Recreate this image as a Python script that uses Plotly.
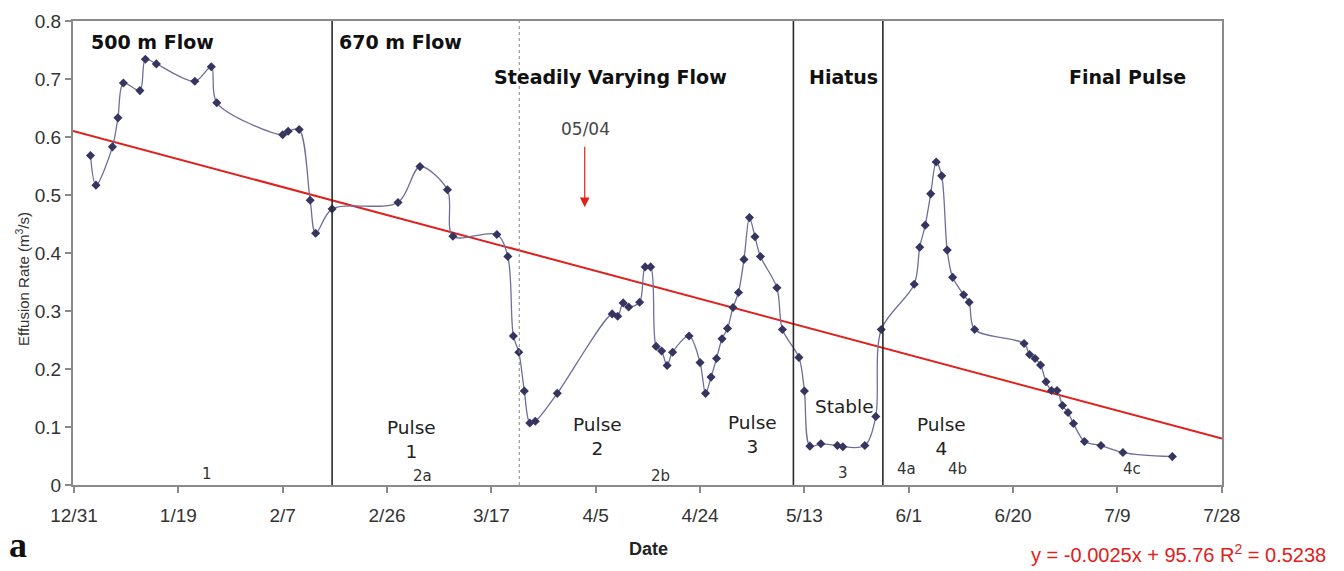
import plotly.graph_objects as go

# ---------------- data ----------------
dates = [
    "2005-01-03", "2005-01-04", "2005-01-07", "2005-01-08", "2005-01-09", "2005-01-12",
    "2005-01-13", "2005-01-15", "2005-01-22", "2005-01-25", "2005-01-26",
    "2005-02-07", "2005-02-08", "2005-02-10", "2005-02-12", "2005-02-13", "2005-02-16",
    "2005-02-28",
    "2005-03-04", "2005-03-09", "2005-03-10", "2005-03-18", "2005-03-20", "2005-03-21",
    "2005-03-22", "2005-03-23", "2005-03-24", "2005-03-25", "2005-03-29",
    "2005-04-08", "2005-04-09", "2005-04-10", "2005-04-11", "2005-04-13", "2005-04-14",
    "2005-04-15", "2005-04-16", "2005-04-17", "2005-04-18", "2005-04-19", "2005-04-22",
    "2005-04-24", "2005-04-25", "2005-04-26", "2005-04-27", "2005-04-28", "2005-04-29",
    "2005-04-30",
    "2005-05-01", "2005-05-02", "2005-05-03", "2005-05-04", "2005-05-05", "2005-05-08",
    "2005-05-09", "2005-05-12", "2005-05-13", "2005-05-14", "2005-05-16", "2005-05-19",
    "2005-05-20", "2005-05-24", "2005-05-26", "2005-05-27",
    "2005-06-02", "2005-06-03", "2005-06-04", "2005-06-05", "2005-06-06", "2005-06-07",
    "2005-06-08", "2005-06-09", "2005-06-11", "2005-06-12", "2005-06-13", "2005-06-22",
    "2005-06-23", "2005-06-24", "2005-06-25", "2005-06-26", "2005-06-27", "2005-06-28",
    "2005-06-29", "2005-06-30",
    "2005-07-01", "2005-07-03", "2005-07-06", "2005-07-10", "2005-07-19",
]
effusion = [
    0.568, 0.517, 0.583, 0.633, 0.693, 0.680,
    0.734, 0.726, 0.696, 0.721, 0.659,
    0.604, 0.610, 0.613, 0.491, 0.434, 0.476,
    0.487,
    0.549, 0.509, 0.429, 0.432, 0.394, 0.257,
    0.229, 0.162, 0.107, 0.110, 0.158,
    0.295, 0.291, 0.314, 0.307, 0.315, 0.376,
    0.376, 0.239, 0.231, 0.206, 0.229, 0.257,
    0.211, 0.158, 0.186, 0.218, 0.252, 0.270,
    0.306,
    0.332, 0.389, 0.461, 0.428, 0.394, 0.340,
    0.268, 0.220, 0.162, 0.067, 0.071, 0.068,
    0.066, 0.068, 0.118, 0.268,
    0.346, 0.410, 0.448, 0.502, 0.557, 0.533,
    0.405, 0.358, 0.328, 0.315, 0.268, 0.244,
    0.225, 0.218, 0.207, 0.178, 0.163, 0.163,
    0.137, 0.125,
    0.106, 0.075, 0.068, 0.056, 0.049,
]

# linear trend line endpoints (y = -0.0025x + 95.76)
trend_dates = ["2004-12-30 19:40", "2005-07-28 01:00"]
trend_values = [0.6105, 0.0800]

# phase boundaries
boundary_solid = ["2005-02-16", "2005-05-11", "2005-05-27 07:00"]
boundary_dotted = ["2005-03-22 02:00"]

tick_dates = ["2004-12-31", "2005-01-19", "2005-02-07", "2005-02-26", "2005-03-17",
              "2005-04-05", "2005-04-24", "2005-05-13", "2005-06-01", "2005-06-20",
              "2005-07-09", "2005-07-28"]
tick_labels = ["12/31", "1/19", "2/7", "2/26", "3/17", "4/5", "4/24", "5/13",
               "6/1", "6/20", "7/9", "7/28"]
y_ticks = [0, 0.1, 0.2, 0.3, 0.4, 0.5, 0.6, 0.7, 0.8]
y_tick_labels = ["0", "0.1", "0.2", "0.3", "0.4", "0.5", "0.6", "0.7", "0.8"]

phase_titles = ["500 m Flow", "670 m Flow", "Steadily Varying Flow", "Hiatus", "Final Pulse"]
pulse_labels = ["Pulse<br>1", "Pulse<br>2", "Pulse<br>3", "Stable", "Pulse<br>4"]
sub_labels = ["1", "2a", "2b", "3", "4a", "4b", "4c"]
event_label = "05/04"
event_date = "2005-04-03"
event_value = 0.479
equation = "y = -0.0025x + 95.76 R<sup>2</sup> = 0.5238"

# ---------------- layout helpers ----------------
W, H = 1344, 571
L, R, T, B = 73, 122, 21, 86
PW, PH = W - L - R, H - T - B


def px(xp):
    return (xp - L) / PW


def py(yp):
    return (H - B - yp) / PH


fig = go.Figure()

fig.add_trace(go.Scatter(
    x=trend_dates, y=trend_values, mode="lines",
    line=dict(color="#e0201c", width=2), hoverinfo="skip", showlegend=False))

fig.add_trace(go.Scatter(
    x=dates, y=effusion, mode="lines+markers",
    line=dict(color="#6e6e9c", width=1.3, shape="spline", smoothing=0.9),
    marker=dict(symbol="diamond", size=7, color="#353560"),
    showlegend=False))

shapes = []
for d in boundary_solid:
    shapes.append(dict(type="line", xref="x", yref="paper", x0=d, x1=d, y0=0, y1=1,
                       line=dict(color="#2a2a2a", width=1.6)))
for d in boundary_dotted:
    shapes.append(dict(type="line", xref="x", yref="paper", x0=d, x1=d, y0=0, y1=1,
                       line=dict(color="#888888", width=1, dash="dot")))

ann = []
head_font = dict(family="DejaVu Sans", size=19, color="#111111")
title_pos = [(152, 42), (400, 42), (610, 77), (843, 77), (1127, 77)]
for t, (xp, yp) in zip(phase_titles, title_pos):
    ann.append(dict(text="<b>%s</b>" % t, x=px(xp), y=py(yp), xref="paper", yref="paper",
                    showarrow=False, font=head_font, xanchor="center", yanchor="middle"))

pulse_pos = [(412, 439), (597, 436), (752, 434), (844, 406), (941, 436)]
for t, (xp, yp) in zip(pulse_labels, pulse_pos):
    ann.append(dict(text=t, x=px(xp), y=py(yp), xref="paper", yref="paper",
                    showarrow=False, font=dict(family="DejaVu Sans", size=18.5, color="#222222"),
                    xanchor="center", yanchor="middle"))

sub_pos = [(207, 474), (422, 476), (660, 476), (843, 473), (906, 469), (957, 469), (1132, 469)]
for t, (xp, yp) in zip(sub_labels, sub_pos):
    ann.append(dict(text=t, x=px(xp), y=py(yp), xref="paper", yref="paper",
                    showarrow=False, font=dict(family="DejaVu Sans", size=15, color="#333333"),
                    xanchor="center", yanchor="middle"))

# event arrow
ann.append(dict(text="", x=event_date, y=event_value, xref="x", yref="y",
                showarrow=True, ax=0, ay=-62, arrowhead=2, arrowsize=1.6,
                arrowwidth=1.2, arrowcolor="#e0201c"))
ann.append(dict(text=event_label, x=px(585), y=py(129), xref="paper", yref="paper",
                showarrow=False, font=dict(family="DejaVu Sans", size=17, color="#444444"),
                xanchor="center", yanchor="middle"))

# axis titles and extras
ann.append(dict(text="Effusion Rate (m<sup>3</sup>/s)", x=px(22), y=py(279),
                xref="paper", yref="paper", showarrow=False, textangle=-90,
                font=dict(family="Liberation Sans", size=15, color="#333333"),
                xanchor="center", yanchor="middle"))
ann.append(dict(text="<b>Date</b>", x=px(648), y=py(549), xref="paper", yref="paper",
                showarrow=False, font=dict(family="Liberation Sans", size=18, color="#222222"),
                xanchor="center", yanchor="middle"))
ann.append(dict(text="<b>a</b>", x=px(18), y=py(545), xref="paper", yref="paper",
                showarrow=False, font=dict(family="Liberation Serif", size=36, color="#111111"),
                xanchor="center", yanchor="middle"))
ann.append(dict(text=equation, x=px(1328), y=py(553), xref="paper", yref="paper",
                showarrow=False, font=dict(family="Liberation Sans", size=20, color="#e0201c"),
                xanchor="right", yanchor="middle"))

fig.update_layout(
    width=W, height=H,
    margin=dict(l=L, r=R, t=T, b=B),
    paper_bgcolor="white", plot_bgcolor="white",
    shapes=shapes, annotations=ann,
    showlegend=False,
    xaxis=dict(
        type="date", range=["2004-12-30 19:40", "2005-07-28 01:00"],
        tickmode="array", tickvals=tick_dates, ticktext=tick_labels,
        showgrid=False, zeroline=False,
        showline=True, linecolor="#8a8a8a", linewidth=2, mirror=True,
        ticks="outside", ticklen=6, tickwidth=1.5, tickcolor="#8a8a8a",
        tickfont=dict(family="Liberation Sans", size=19, color="#333333"),
        ticklabelstandoff=6,
    ),
    yaxis=dict(
        range=[0, 0.8],
        tickmode="array", tickvals=y_ticks, ticktext=y_tick_labels,
        showgrid=False, zeroline=False,
        showline=True, linecolor="#8a8a8a", linewidth=2, mirror=True,
        ticks="outside", ticklen=6, tickwidth=1.5, tickcolor="#8a8a8a",
        tickfont=dict(family="Liberation Sans", size=19, color="#333333"),
        ticklabelstandoff=0,
    ),
)

fig.write_html("out.html")
